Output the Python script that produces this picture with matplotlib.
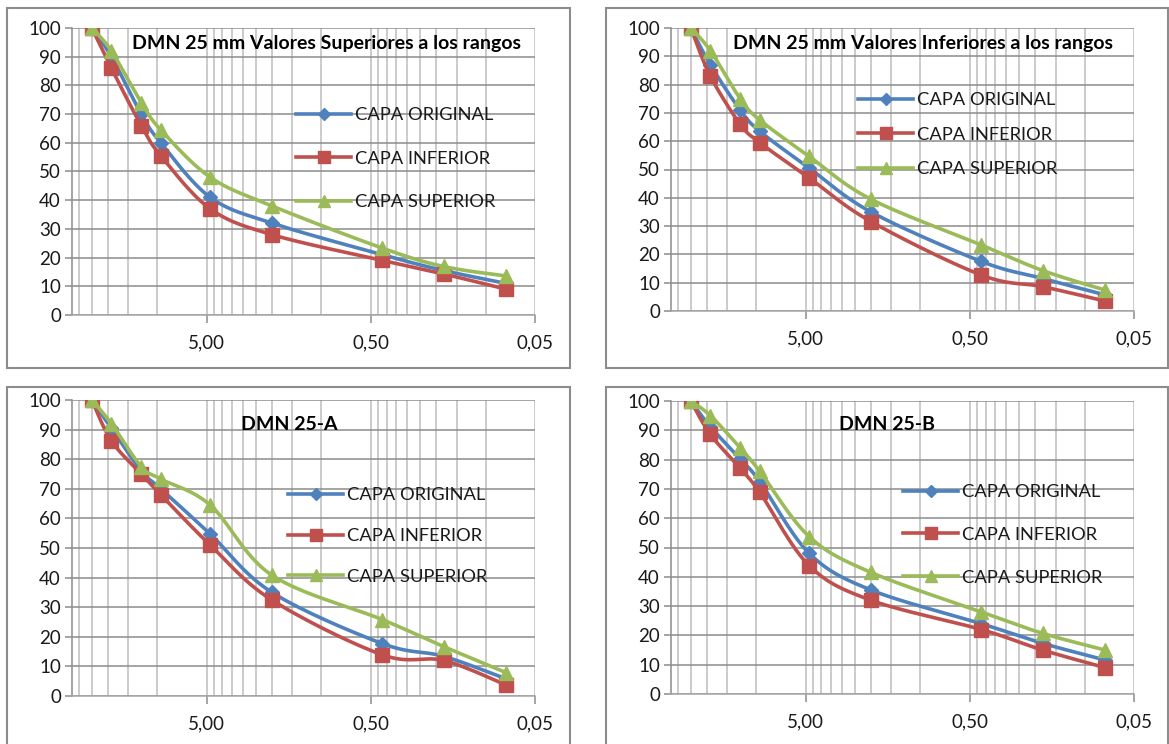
import numpy as np
import matplotlib.pyplot as plt
from matplotlib.patches import Rectangle
from matplotlib.ticker import FixedLocator, NullFormatter, FixedFormatter

plt.rcParams['font.family'] = ['Lato', 'DejaVu Sans']

W, H = 1169, 744

# abertura de tamices (mm)
tamiz = [25, 19, 12.5, 9.5, 4.75, 2.0, 0.425, 0.18, 0.075]

# DMN 25 mm valores superiores
sup_original = [100, 90, 70, 60, 41, 32, 21, 15.5, 11]
sup_inferior = [100, 86, 66, 55.5, 37, 28, 19, 14.3, 9]
sup_superior = [100, 92, 74, 64.5, 48, 38, 23.3, 16.9, 13.6]

# DMN 25 mm valores inferiores
inf_original = [100, 87, 71, 63.5, 50.5, 35, 17.5, 11.5, 5.7]
inf_inferior = [100, 83, 66, 59.5, 47, 31.6, 12.7, 8.6, 3.5]
inf_superior = [100, 92, 75, 67.5, 54.6, 39.5, 23.3, 14.3, 7.4]

# DMN 25-A
a_original = [100, 90.5, 76, 70, 54.7, 35, 17.7, 13.4, 5.8]
a_inferior = [100, 86.2, 75, 68, 51, 32.4, 13.9, 12, 3.7]
a_superior = [100, 92, 77.5, 73.3, 64.5, 40.8, 25.8, 16.7, 7.9]

# DMN 25-B
b_original = [100, 91.2, 80.2, 72.5, 48, 35.5, 24, 17.3, 11.6]
b_inferior = [100, 88.6, 77, 68.8, 43.8, 32, 22, 15, 9]
b_superior = [100, 95, 84, 76, 53.7, 41.5, 28, 20.7, 15]

nombres = ['CAPA ORIGINAL', 'CAPA INFERIOR', 'CAPA SUPERIOR']
colores = ['#4F81BD', '#C0504D', '#9BBB59']
marcas = ['D', 's', '^']
tam_marca = [7.5, 10, 10]


def suavizar(x, y, n=30):
    # curva tipo Catmull-Rom en escala log, como la linea suavizada de Excel
    lx = np.log10(np.asarray(x, float))
    y = np.asarray(y, float)
    p = np.column_stack([lx, y])
    p = np.vstack([p[0], p, p[-1]])
    out = []
    t = np.linspace(0, 1, n)[:, None]
    for i in range(1, len(p) - 2):
        p0, p1, p2, p3 = p[i - 1], p[i], p[i + 1], p[i + 2]
        c1 = p1 + (p2 - p0) / 6
        c2 = p2 - (p3 - p1) / 6
        seg = ((1 - t) ** 3) * p1 + 3 * ((1 - t) ** 2) * t * c1 + 3 * (1 - t) * t ** 2 * c2 + t ** 3 * p2
        out.append(seg if i == 1 else seg[1:])
    out = np.vstack(out)
    return 10 ** out[:, 0], out[:, 1]


def caja(x0, y0, x1, y1):
    return [x0 / W, 1 - y1 / H, (x1 - x0) / W, (y1 - y0) / H]


fig = plt.figure(figsize=(W / 100, H / 100), dpi=100)

paneles = [
    dict(ax=(72, 28, 535, 315), marco=(7, 8, 570, 368),
         titulo='DMN 25 mm Valores Superiores a los rangos', tpos=(326, 43),
         ley=(296, 107), esp=1.50,
         datos=[sup_original, sup_inferior, sup_superior]),
    dict(ax=(671, 28, 1134, 311), marco=(606, 8, 1168, 368),
         titulo='DMN 25 mm Valores Inferiores a los rangos', tpos=(923, 43),
         ley=(858, 92), esp=1.02,
         datos=[inf_original, inf_inferior, inf_superior]),
    dict(ax=(72, 400, 535, 696), marco=(7, 387, 570, 760),
         titulo='DMN 25-A', tpos=(289, 424),
         ley=(288, 487), esp=1.36,
         datos=[a_original, a_inferior, a_superior]),
    dict(ax=(671, 401, 1134, 694), marco=(606, 387, 1168, 760),
         titulo='DMN 25-B', tpos=(887, 424),
         ley=(903, 484), esp=1.46,
         datos=[b_original, b_inferior, b_superior]),
]

menores = [k * 0.05 for k in range(2, 10)] + [k * 0.5 for k in range(2, 10)] + [k * 5 for k in range(2, 7)]

for p in paneles:
    ax = fig.add_axes(caja(*p['ax']))
    ax.set_xscale('log')
    ax.set_xlim(33, 0.05)
    ax.set_ylim(0, 100)

    ax.xaxis.set_major_locator(FixedLocator([5, 0.5, 0.05]))
    ax.xaxis.set_major_formatter(FixedFormatter(['5,00', '0,50', '0,05']))
    ax.xaxis.set_minor_locator(FixedLocator(menores))
    ax.xaxis.set_minor_formatter(NullFormatter())
    ax.set_yticks(range(0, 101, 10))

    ax.grid(True, which='both', axis='x', color='#BDBDBD', lw=1.1)
    ax.grid(True, which='major', axis='y', color='#8C8C8C', lw=1.1)
    ax.set_axisbelow(True)

    for s in ['top', 'right']:
        ax.spines[s].set_visible(False)
    ax.spines['left'].set_color('#8C8C8C')
    ax.spines['bottom'].set_color('#A6A6A6')
    ax.spines['left'].set_linewidth(1.1)
    ax.spines['bottom'].set_linewidth(1.1)

    ax.tick_params(axis='x', which='major', length=6, width=1.1, color='#8C8C8C',
                   labelsize=13.5, pad=8, labelcolor='#1a1a1a')
    ax.tick_params(axis='x', which='minor', length=0)
    ax.tick_params(axis='y', length=5, width=1.1, color='#8C8C8C', labelsize=13.5,
                   pad=3, labelcolor='#1a1a1a')

    for serie, nom, col, mk, ms in zip(p['datos'], nombres, colores, marcas, tam_marca):
        xs, ys = suavizar(tamiz, serie)
        ax.plot(xs, ys, color=col, lw=2.6, solid_capstyle='round')
        ax.plot(tamiz, serie, ls='none', marker=mk, ms=ms, color=col, mec=col)
        ax.plot([], [], color=col, lw=2.6, marker=mk, ms=ms * 0.8, label=nom)

    lx, ly = p['ley']
    ax.legend(loc='upper left', bbox_to_anchor=(lx / W, 1 - ly / H),
              bbox_transform=fig.transFigure, frameon=False, fontsize=13.2,
              handlelength=3.0, handletextpad=0.22, labelspacing=p['esp'],
              borderpad=0, borderaxespad=0, labelcolor='#1a1a1a')

    tx, ty = p['tpos']
    fig.text(tx / W, 1 - ty / H, p['titulo'], ha='center', va='center',
             fontsize=14, fontweight='bold', color='black')

    x0, y0, x1, y1 = p['marco']
    fig.patches.append(Rectangle((x0 / W, 1 - y1 / H), (x1 - x0) / W, (y1 - y0) / H,
                                 transform=fig.transFigure, fill=False,
                                 edgecolor='#8C8C8C', lw=1.5))

fig.savefig('out.png', dpi=100)
